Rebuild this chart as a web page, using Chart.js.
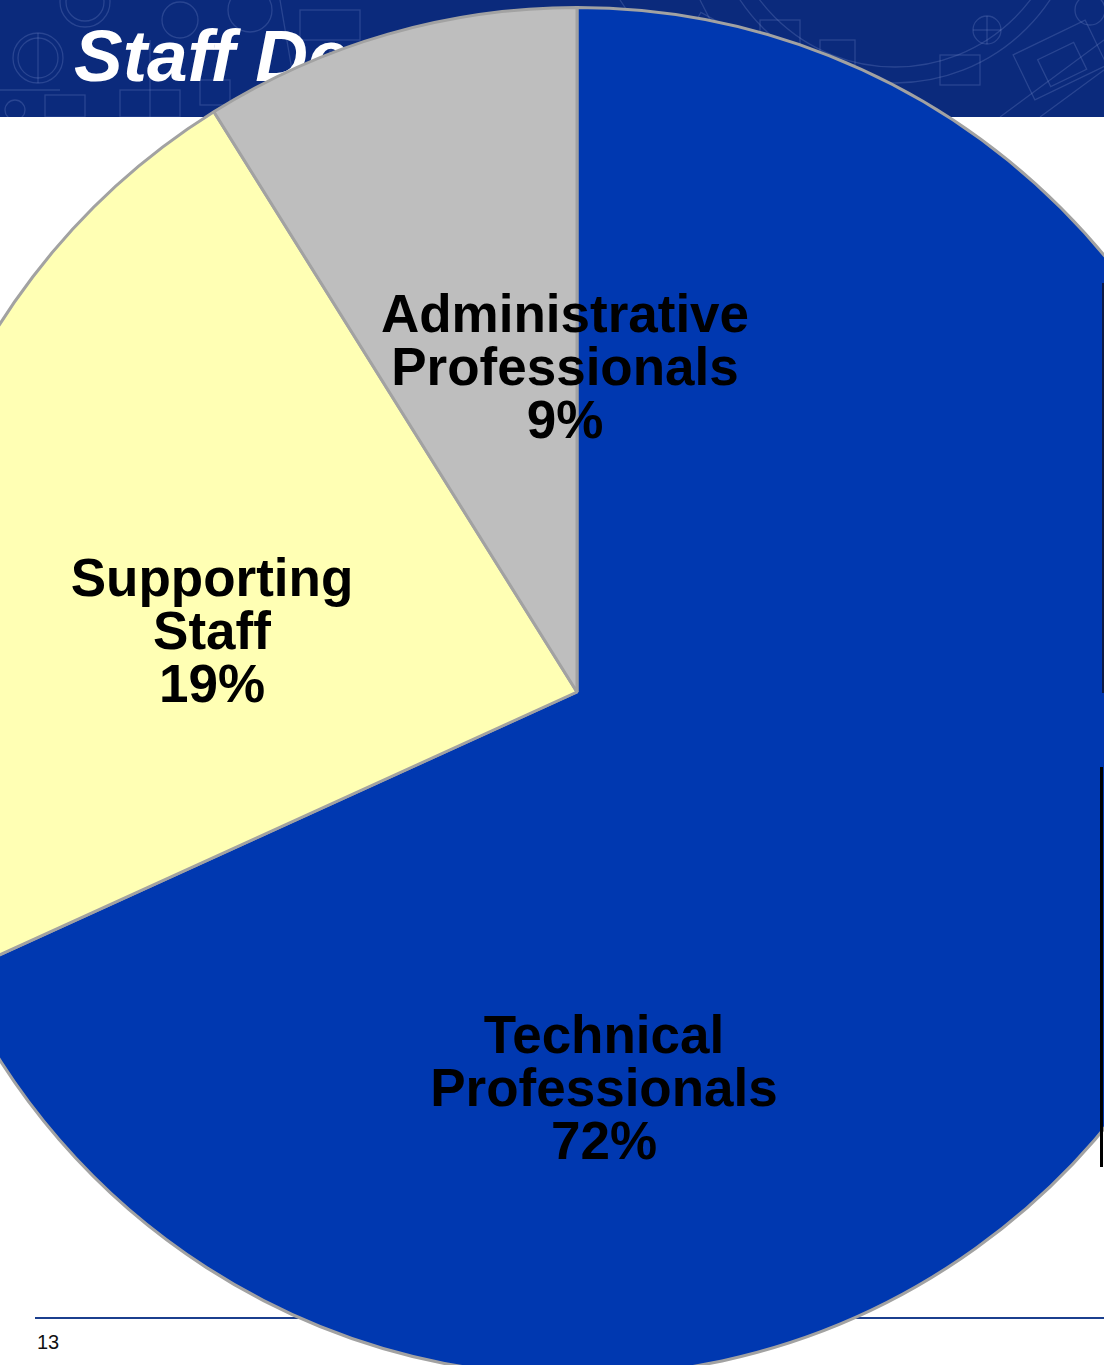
<!DOCTYPE html>
<html>
<head>
<meta charset="utf-8">
<script src="https://cdn.jsdelivr.net/npm/chart.js@4/dist/chart.umd.min.js"></script>
<style>
html,body{margin:0;padding:0;background:#fff;}
#page{position:relative;width:1104px;height:1365px;overflow:hidden;background:#fff;font-family:"Liberation Sans",Arial,sans-serif;}
#header{position:absolute;left:0;top:0;width:1104px;height:117px;background:#0b2a7c;}
#pattern{position:absolute;left:0;top:0;}
#title{position:absolute;left:74px;top:19px;margin:0;color:#fff;font-style:italic;font-weight:bold;font-size:73px;line-height:73px;white-space:nowrap;}
#footerLine{position:absolute;left:35px;top:1317px;width:1069px;height:2px;background:#1b3f8e;}
#pageNum{position:absolute;left:37px;top:1330px;font-size:20px;line-height:24px;color:#111;}
#chartBox{position:absolute;left:-109px;top:6px;width:1372px;height:1372px;}
#edge1{position:absolute;left:1102px;top:283px;width:2px;height:410px;background:#0d1a45;}
#edge2{position:absolute;left:1100px;top:767px;width:3px;height:400px;background:#000;}
</style>
</head>
<body>
<div id="page">
  <div id="header"><canvas id="pattern" width="1104" height="117"></canvas></div>
  <h1 id="title">Staff Demographics</h1>
  <div id="footerLine"></div>
  <div id="pageNum">13</div>
  <div id="chartBox"><canvas id="pie" width="1372" height="1372"></canvas></div>
  <div id="edge1"></div>
  <div id="edge2"></div>
</div>
<script>
// ---- data ----
const categories = ['Technical Professionals', 'Supporting Staff', 'Administrative Professionals'];
const sliceShares = [68.2, 22.9, 8.9];      // slice sizes as drawn in the picture
const labelPercents = [72, 19, 9];          // percentages printed on the labels
const sliceColors = ['#0038b0', '#ffffb4', '#bebebe'];

// ---- decorative blueprint pattern in the header ----
(function(){
  const c = document.getElementById('pattern').getContext('2d');
  c.strokeStyle = 'rgba(130,150,210,0.25)';
  c.lineWidth = 1.3;
  function circ(x,y,r){c.beginPath();c.arc(x,y,r,0,Math.PI*2);c.stroke();}
  function rect(x,y,w,h){c.strokeRect(x,y,w,h);}
  function line(x1,y1,x2,y2){c.beginPath();c.moveTo(x1,y1);c.lineTo(x2,y2);c.stroke();}
  circ(38,58,25); circ(38,58,20); line(38,33,38,83);
  circ(85,2,25); circ(85,2,19);
  circ(180,20,18); circ(250,10,22);
  rect(45,95,40,22); rect(120,90,60,27); rect(200,80,30,25);
  rect(300,10,60,30); rect(330,50,50,35); line(280,0,300,117);
  line(150,40,150,117); line(0,90,60,90); circ(15,110,10);
  circ(895,-103,186); circ(895,-103,170);
  circ(987,30,14); line(973,30,1001,30); line(987,16,987,44);
  rect(760,20,40,30); rect(820,40,35,25); rect(940,55,40,30);
  c.save(); c.translate(1060,60); c.rotate(-0.45); rect(-40,-25,80,50); rect(-20,-10,40,30); c.restore();
  c.save(); c.translate(720,40); c.rotate(0.5); rect(-30,-15,60,30); c.restore();
  line(1040,117,1104,70); line(1000,117,1104,40);
  circ(1090,10,15); line(700,0,760,117); line(620,0,660,60);
})();

// ---- slice labels plugin ----
const sliceLabels = {
  id: 'sliceLabels',
  afterDatasetsDraw(chart, args, opts) {
    const meta = chart.getDatasetMeta(0);
    const ctx = chart.ctx;
    ctx.save();
    ctx.font = opts.font;
    ctx.fillStyle = opts.color;
    ctx.textAlign = 'center';
    ctx.textBaseline = 'alphabetic';
    meta.data.forEach((arc, i) => {
      const off = opts.offsets[i];
      const lines = categories[i].split(' ').concat([labelPercents[i] + '%']);
      lines.forEach((t, j) => ctx.fillText(t, arc.x + off[0], arc.y + off[1] + j * opts.lineHeight));
    });
    ctx.restore();
  }
};

new Chart(document.getElementById('pie'), {
  type: 'pie',
  data: {
    labels: categories,
    datasets: [{
      data: sliceShares,
      backgroundColor: sliceColors,
      borderColor: '#a2a2a2',
      borderWidth: 3,
      hoverOffset: 0
    }]
  },
  options: {
    responsive: false,
    animation: false,
    layout: { padding: 0 },
    events: [],
    plugins: {
      legend: { display: false },
      tooltip: { enabled: false },
      sliceLabels: {
        font: 'bold 53px "Liberation Sans", Arial, sans-serif',
        color: '#000',
        lineHeight: 53,
        offsets: [[27, 361], [-365, -96], [-12, -360]]
      }
    }
  },
  plugins: [sliceLabels]
});
</script>
</body>
</html>
